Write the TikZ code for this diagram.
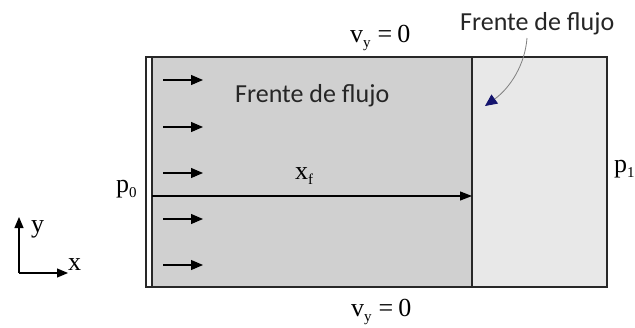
\documentclass[tikz,border=0pt]{standalone}
\usepackage{fontspec}
\setmainfont{Liberation Serif}
\newfontfamily\carlito{Carlito}
\usetikzlibrary{arrows.meta}
\definecolor{flowgray}{RGB}{208,208,208}
\definecolor{drygray}{RGB}{232,232,232}
\definecolor{framecol}{RGB}{40,40,40}
\definecolor{navytip}{RGB}{20,20,110}
\newcommand{\lowsub}[1]{\raisebox{-0.45ex}{\fontsize{15}{15}\selectfont #1}}
\tikzset{
  framestyle/.style={draw=framecol,line width=1.2pt},
  flowarrow/.style={line width=1.1pt,-{Triangle[length=12pt,width=10pt]}},
  axisarrow/.style={line width=1.1pt,-{Triangle[length=11pt,width=9pt]}},
  seriflabel/.style={inner sep=0pt,font=\fontsize{26}{30}\selectfont},
  sanslabel/.style={inner sep=0pt,font=\carlito\fontsize{26}{30}\selectfont,text=black!85},
  pointer/.style={draw=gray,line width=0.8pt,-{Triangle[length=12pt,width=11pt,color=navytip]}}
}
\begin{document}
\begin{tikzpicture}[x=1pt,y=-1pt]
\useasboundingbox (0,0) rectangle (635,327);
% regions
\fill[flowgray] (152,57) rectangle (472,287);
\fill[drygray] (472,57) rectangle (607,287);
\draw[framestyle] (146,57) rectangle (607,287);
\draw[framestyle] (152,57) -- (152,287);
\draw[framestyle] (472,57) -- (472,287);
% inlet arrows
\foreach \yy in {80,127,173,219,265} {
  \coordinate (as\yy) at (163,\yy);
  \coordinate (ae\yy) at (203,\yy);
  \draw[flowarrow] (as\yy) -- (ae\yy);
}
% front position arrow
\coordinate (xs) at (152,196);
\coordinate (xe) at (472,196);
\draw[line width=1.2pt,-{Triangle[length=12pt,width=9pt]}] (xs) -- (xe);
% labels
\node[seriflabel,anchor=base west] (vtop) at (350,42) {v\lowsub{y}\hspace{7pt}=\hspace{5pt}0};
\node[seriflabel,anchor=base west] (vbot) at (351,316) {v\lowsub{y}\hspace{7pt}=\hspace{5pt}0};
\node[seriflabel,anchor=base west] (p0) at (116,192) {p\lowsub{0}};
\node[seriflabel,anchor=base west] (p1) at (614,172) {p\lowsub{1}};
\node[seriflabel,anchor=base west] (xf) at (295,179) {x\lowsub{f}};
\node[sanslabel,anchor=base west] (fin) at (235,102) {Frente de flujo};
\node[sanslabel,anchor=base west] (ftop) at (460,30) {Frente de flujo};
% pointer
\coordinate (ptip) at (485,106);
\draw[pointer] (527,38) .. controls (525,65) and (510,88) .. (ptip);
% axes
\coordinate (origin) at (19,273);
\coordinate (yend) at (19,217);
\coordinate (xend) at (68,273);
\draw[axisarrow] (origin) -- (yend);
\draw[axisarrow] (origin) -- (xend);
\node[seriflabel,anchor=base west] (ylab) at (31,232) {y};
\node[seriflabel,anchor=base west] (xlab) at (68,270) {x};
\end{tikzpicture}
\end{document}
